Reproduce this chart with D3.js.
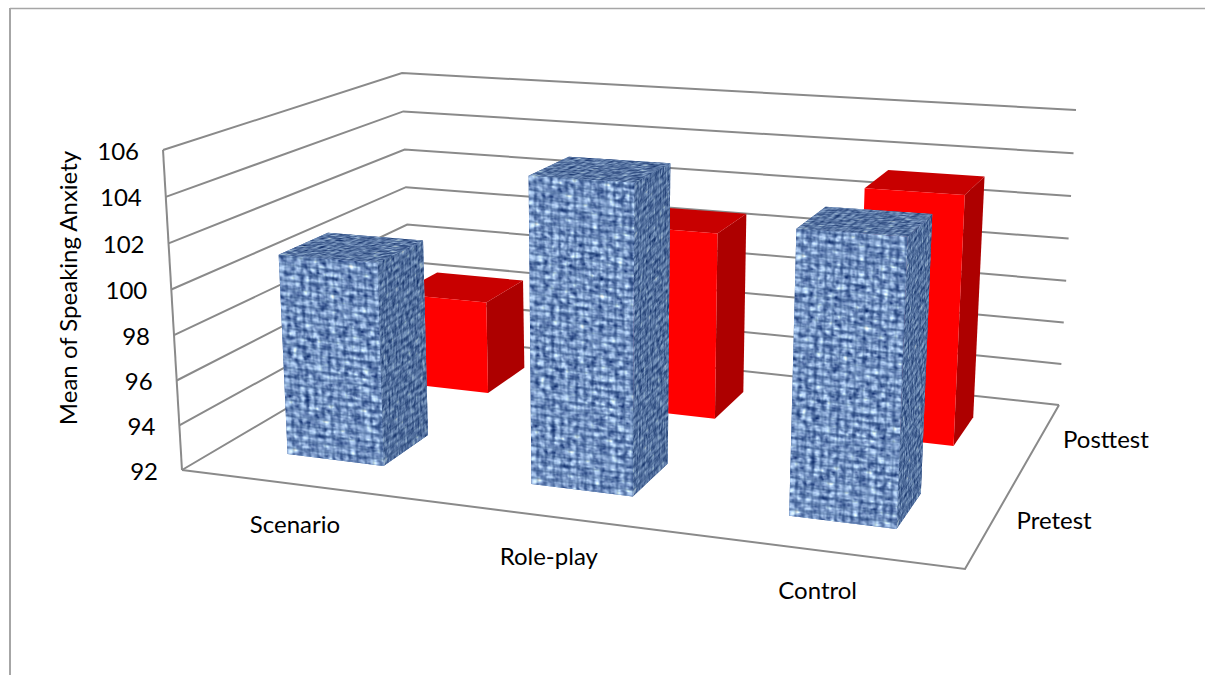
<!DOCTYPE html>
<html>
<head>
<meta charset="utf-8">
<script src="https://cdn.jsdelivr.net/npm/d3@7"></script>
<style>
  html, body { margin: 0; padding: 0; background: #fff; }
  svg { display: block; }
  text { font-family: Lato, "Open Sans", sans-serif; fill: #000; }
</style>
</head>
<body>
<svg id="chart" width="1205" height="675"></svg>
<script>
// Chart data
const categories = ["Scenario", "Role-play", "Control"];
const seriesNames = ["Pretest", "Posttest"];
const pretest = [101.0, 105.2, 103.8];
const posttest = [96.5, 100.75, 103.3];
const valueTicks = [92, 94, 96, 98, 100, 102, 104, 106];
const axisTitle = "Mean of Speaking Anxiety";

const width = 1205, height = 675;
const svg = d3.select("#chart");

// Screen corners of the 3D box: floor and ceiling, [front-left, front-right, back-right, back-left]
const floorQuad = [[182, 470], [965, 569], [1059, 405], [411, 335]];
const ceilQuad = [[163, 150], [982, 203], [1076, 110], [402, 73]];

const uScale = d3.scaleBand(categories, [-0.008, 0.996]).paddingInner(0.6).paddingOuter(0.3);
const wScale = d3.scaleBand(seriesNames, [0, 1]).paddingInner(0.6).paddingOuter(0.3);
const vScale = d3.scaleLinear().domain([92, 106]).range([0, 1]);

// Homography of the unit square onto a four-point quad
function quadMap(q) {
  const [[x0, y0], [x1, y1], [x2, y2], [x3, y3]] = q;
  const dx1 = x1 - x2, dx2 = x3 - x2, sx = x0 - x1 + x2 - x3;
  const dy1 = y1 - y2, dy2 = y3 - y2, sy = y0 - y1 + y2 - y3;
  const den = dx1 * dy2 - dx2 * dy1;
  const g = (sx * dy2 - dx2 * sy) / den, h = (dx1 * sy - sx * dy1) / den;
  const a = x1 - x0 + g * x1, b = x3 - x0 + h * x3;
  const d = y1 - y0 + g * y1, e = y3 - y0 + h * y3;
  return (u, w) => {
    const k = g * u + h * w + 1;
    return [(a * u + b * w + x0) / k, (d * u + e * w + y0) / k];
  };
}

// Project (u across, w into the depth, value up) to the screen
const bend = 0.03;
function project(u, w, value) {
  const t0 = vScale(value);
  const t = t0 / (1 + bend - bend * t0);
  const quad = floorQuad.map((p, i) => [
    p[0] + (ceilQuad[i][0] - p[0]) * t,
    p[1] + (ceilQuad[i][1] - p[1]) * t
  ]);
  return quadMap(quad)(u, w);
}

// Woven fabric texture used on the Pretest bars
const defs = svg.append("defs");
const weave = defs.append("filter").attr("id", "weave")
  .attr("x", 0).attr("y", 0).attr("width", "100%").attr("height", "100%")
  .attr("color-interpolation-filters", "sRGB");
const opaqueGrey = "1 0 0 0 0  1 0 0 0 0  1 0 0 0 0  0 0 0 0 1";
weave.append("feTurbulence").attr("type", "fractalNoise").attr("baseFrequency", "0.1 0.25")
  .attr("numOctaves", 2).attr("seed", 3).attr("stitchTiles", "stitch").attr("result", "a0");
weave.append("feColorMatrix").attr("in", "a0").attr("values", opaqueGrey).attr("result", "a");
weave.append("feTurbulence").attr("type", "fractalNoise").attr("baseFrequency", "0.2 0.125")
  .attr("numOctaves", 2).attr("seed", 8).attr("stitchTiles", "stitch").attr("result", "b0");
weave.append("feColorMatrix").attr("in", "b0").attr("values", opaqueGrey).attr("result", "b");
weave.append("feComposite").attr("in", "a").attr("in2", "b").attr("operator", "arithmetic")
  .attr("k1", 0).attr("k2", 0.5).attr("k3", 0.5).attr("k4", 0).attr("result", "mix");
weave.append("feColorMatrix").attr("in", "mix")
  .attr("values", "1.8 0 0 0 -0.40  1.8 0 0 0 -0.28  1.5 0 0 0 0.05  0 0 0 0 1");

// Regular thread lattice laid over the noise
const tile = 256;
const threads = defs.append("pattern").attr("id", "threads")
  .attr("patternUnits", "userSpaceOnUse").attr("width", 8).attr("height", 8);
threads.append("rect").attr("x", 0).attr("y", 5.5).attr("width", 8).attr("height", 2).attr("fill", "#1c3a70").attr("fill-opacity", 0.36);
threads.append("rect").attr("x", 5.5).attr("y", 0).attr("width", 2).attr("height", 8).attr("fill", "#1c3a70").attr("fill-opacity", 0.3);
threads.append("rect").attr("x", 0.5).attr("y", 1.5).attr("width", 4).attr("height", 2).attr("fill", "#c6dcff").attr("fill-opacity", 0.32);

function facePattern(id, origin, alongA, alongB, scaleA, scaleB) {
  const unit = (p, q) => {
    const dx = q[0] - p[0], dy = q[1] - p[1], l = Math.hypot(dx, dy);
    return [dx / l, dy / l];
  };
  const a = unit(origin, alongA), b = unit(origin, alongB);
  const m = [a[0] * scaleA, a[1] * scaleA, b[0] * scaleB, b[1] * scaleB, origin[0], origin[1]];
  const pat = defs.append("pattern").attr("id", id)
    .attr("patternUnits", "userSpaceOnUse").attr("width", tile).attr("height", tile)
    .attr("patternTransform", `matrix(${m.join(" ")})`);
  pat.append("rect").attr("width", tile).attr("height", tile).attr("filter", "url(#weave)");
  pat.append("rect").attr("width", tile).attr("height", tile).attr("fill", "url(#threads)");
  return `url(#${id})`;
}

// Outer frame: top and left rules only
const frameColor = "#a6a6a6";
svg.append("line").attr("x1", 10).attr("y1", 8.5).attr("x2", width).attr("y2", 8.5)
  .attr("stroke", frameColor).attr("stroke-width", 1.5);
svg.append("line").attr("x1", 10).attr("y1", 8).attr("x2", 10).attr("y2", height)
  .attr("stroke", frameColor).attr("stroke-width", 2);

// Gridlines on the back and left walls, plus the floor outline
const gridColor = "#8a8a8a";
const path = d3.line();
const grid = svg.append("g").attr("fill", "none").attr("stroke", gridColor).attr("stroke-width", 2);
grid.selectAll("path.wall").data(valueTicks).join("path").attr("class", "wall")
  .attr("d", v => path([project(0, 0, v), project(0, 1, v), project(1, 1, v)]));
grid.append("path").attr("d", path([project(0, 0, 92), project(0, 0, 106)]));
grid.append("path").attr("d", path([project(0, 0, 92), project(1, 0, 92), project(1, 1, 92)]));

// Bars, drawn from the back row forward
const barRows = [
  { name: "Posttest", values: posttest, textured: false },
  { name: "Pretest", values: pretest, textured: true }
];
const bars = svg.append("g");
barRows.forEach(row => {
  const w0 = wScale(row.name), w1 = w0 + wScale.bandwidth();
  categories.forEach((cat, i) => {
    const u0 = uScale(cat), u1 = u0 + uScale.bandwidth(), v = row.values[i];
    const fbl = project(u0, w0, 92), fbr = project(u1, w0, 92), bbr = project(u1, w1, 92);
    const ftl = project(u0, w0, v), ftr = project(u1, w0, v), btr = project(u1, w1, v), btl = project(u0, w1, v);
    const g = bars.append("g");
    const side = [fbr, bbr, btr, ftr], top = [ftl, ftr, btr, btl], front = [fbl, fbr, ftr, ftl];
    const face = (pts, fill) => g.append("path").attr("d", path(pts) + "Z").attr("fill", fill);
    if (row.textured) {
      face(front, "#5d7fb3");
      face(side, "#4a6a9e");
      face(side, facePattern(`side${i}`, fbr, bbr, ftr, 0.42, 1));
      face(side, "#0b2350").attr("fill-opacity", 0.3);
      face(top, "#4a6a9e");
      face(top, facePattern(`top${i}`, ftl, ftr, btl, 1, 0.4));
      face(top, "#0b2350").attr("fill-opacity", 0.25);
      face(front, facePattern(`front${i}`, fbl, fbr, ftl, 1, 1));
    } else {
      face(side, "#ad0000");
      face(top, "#c80000");
      face(front, "#ff0000");
    }
  });
});

// Value axis labels beside the front-left edge
const fontSize = 24;
svg.append("g").selectAll("text").data(valueTicks).join("text")
  .attr("x", v => project(0, 0, v)[0] - 24)
  .attr("y", v => project(0, 0, v)[1])
  .attr("text-anchor", "end").attr("dominant-baseline", "central")
  .attr("font-size", fontSize).text(v => v);

// Category labels below the front edge
const categoryDrop = 39, categoryShift = -0.004;
const categoryAnchor = c => project(uScale(c) + uScale.bandwidth() / 2 + categoryShift, 0, 92);
svg.append("g").selectAll("text").data(categories).join("text")
  .attr("x", c => categoryAnchor(c)[0])
  .attr("y", c => categoryAnchor(c)[1] + categoryDrop)
  .attr("text-anchor", "middle").attr("dominant-baseline", "central")
  .attr("font-size", fontSize).text(c => c);

// Series labels along the right floor edge
svg.append("g").selectAll("text").data(seriesNames).join("text")
  .attr("x", s => project(1, wScale(s) + wScale.bandwidth() / 2, 92)[0] + 24)
  .attr("y", s => project(1, wScale(s) + wScale.bandwidth() / 2, 92)[1] - 1.5)
  .attr("text-anchor", "start").attr("dominant-baseline", "central")
  .attr("font-size", fontSize).text(s => s);

// Value axis title
svg.append("text")
  .attr("transform", "translate(67,288) rotate(-90)")
  .attr("text-anchor", "middle").attr("dominant-baseline", "central")
  .attr("font-size", fontSize).text(axisTitle);
</script>
</body>
</html>
